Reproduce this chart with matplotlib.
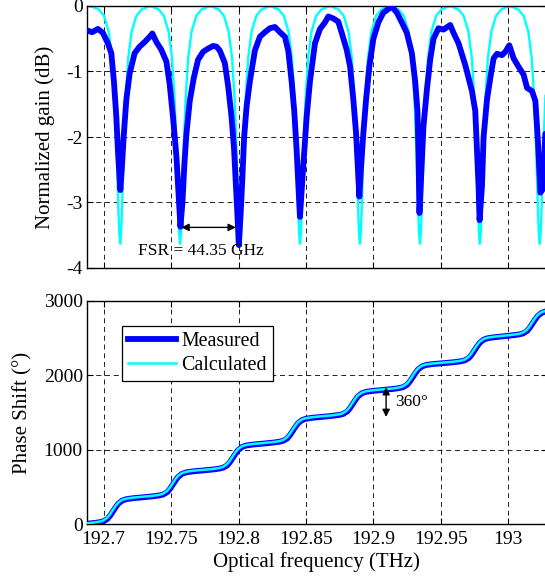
import matplotlib
matplotlib.use('Agg')
import matplotlib.pyplot as plt
from matplotlib.ticker import FixedLocator, FuncFormatter

plt.rcParams['font.family'] = ['Liberation Serif', 'DejaVu Serif']
plt.rcParams['axes.unicode_minus'] = False

# ---------------- data ----------------
# Top panel: measured normalized gain (dB)
GAIN_MEAS_FREQ = [
    192.68738, 192.6915, 192.69577, 192.69948, 192.70319, 192.70572, 192.70765, 192.70943,
    192.71062, 192.71166, 192.71240, 192.71359, 192.71507, 192.71686, 192.71931, 192.72302,
    192.72673, 192.73045, 192.73416, 192.73616, 192.73913, 192.74285, 192.74656, 192.74901,
    192.75146, 192.75399, 192.75569, 192.75696, 192.75844, 192.75993, 192.76141, 192.76386,
    192.76683, 192.77002, 192.77374, 192.77745, 192.78116, 192.78369, 192.78614, 192.78985,
    192.79230, 192.79483, 192.79676, 192.79802, 192.79898, 192.80025, 192.80151, 192.80270,
    192.80418, 192.80597, 192.80842, 192.81213, 192.81584, 192.81955, 192.82327, 192.82698,
    192.83069, 192.83441, 192.83686, 192.83938, 192.84131, 192.84309, 192.84428, 192.84554,
    192.84799, 192.85052, 192.85297, 192.85668, 192.86040, 192.86411, 192.86656, 192.87027,
    192.87398, 192.87651, 192.88022, 192.88267, 192.88512, 192.88713, 192.88839, 192.88958,
    192.89084, 192.89255, 192.89455, 192.89700, 192.89998, 192.90369, 192.90740, 192.91364,
    192.91735, 192.92106, 192.92478, 192.92849, 192.93094, 192.93265, 192.93339, 192.93413,
    192.93539, 192.93710, 192.93963, 192.94208, 192.94453, 192.94824, 192.95195, 192.95693,
    192.95938, 192.96309, 192.96807, 192.97304, 192.97549, 192.97676, 192.97794, 192.97869,
    192.98047, 192.98166, 192.98418, 192.98663, 192.98908, 192.99161, 192.99532, 192.99777,
    193.00074, 193.00393, 193.00765, 193.01136, 193.01388, 193.01760, 193.02005, 193.02205,
    193.02376, 193.02547, 193.02747,
]
GAIN_MEAS_DB = [
    -0.37, -0.40, -0.35, -0.41, -0.57, -0.72, -1.15, -1.69,
    -2.20, -2.55, -2.81, -2.45, -1.94, -1.43, -1.03, -0.72,
    -0.62, -0.55, -0.47, -0.42, -0.55, -0.67, -0.85, -1.20,
    -1.70, -2.30, -2.90, -3.37, -3.00, -2.40, -1.95, -1.45,
    -1.10, -0.82, -0.70, -0.65, -0.61, -0.62, -0.68, -0.87,
    -1.22, -1.69, -2.20, -2.70, -3.10, -3.65, -3.20, -2.70,
    -2.00, -1.54, -1.15, -0.68, -0.47, -0.40, -0.34, -0.32,
    -0.40, -0.47, -0.68, -1.15, -1.60, -2.20, -2.70, -3.22,
    -2.45, -1.69, -1.15, -0.57, -0.35, -0.25, -0.16, -0.19,
    -0.24, -0.41, -0.67, -0.92, -1.43, -1.94, -2.45, -2.91,
    -2.45, -1.94, -1.43, -0.92, -0.50, -0.25, -0.10, -0.01,
    -0.10, -0.25, -0.41, -0.72, -1.15, -1.60, -2.20, -3.16,
    -2.60, -1.84, -1.28, -0.82, -0.50, -0.34, -0.36, -0.29,
    -0.41, -0.57, -0.90, -1.30, -1.60, -2.20, -2.75, -3.27,
    -2.75, -2.00, -1.43, -1.10, -0.80, -0.73, -0.75, -0.70,
    -0.60, -0.80, -0.93, -1.05, -1.25, -1.30, -1.45, -2.10,
    -2.85, -2.80, -1.95,
]

# Top panel: calculated normalized gain (dB)
GAIN_CALC_FREQ = [
    192.6874, 192.6901,
    192.6963, 192.7003, 192.7038, 192.7063, 192.7083, 192.7098, 192.7108, 192.7116, 192.7123,
    192.7130, 192.7138, 192.7148, 192.7163, 192.7183, 192.7208, 192.7243, 192.7283, 192.7345,
    192.7407, 192.7447, 192.7482, 192.7507, 192.7527, 192.7542, 192.7552, 192.7560, 192.7567,
    192.7574, 192.7582, 192.7592, 192.7607, 192.7627, 192.7652, 192.7687, 192.7727, 192.7790,
    192.7852, 192.7892, 192.7927, 192.7952, 192.7972, 192.7987, 192.7997, 192.8005, 192.8012,
    192.8019, 192.8027, 192.8037, 192.8052, 192.8072, 192.8097, 192.8132, 192.8172, 192.8234,
    192.8296, 192.8336, 192.8371, 192.8396, 192.8416, 192.8431, 192.8441, 192.8449, 192.8456,
    192.8463, 192.8471, 192.8481, 192.8496, 192.8516, 192.8541, 192.8576, 192.8616, 192.8678,
    192.8740, 192.8780, 192.8815, 192.8840, 192.8860, 192.8875, 192.8885, 192.8893, 192.8900,
    192.8907, 192.8915, 192.8925, 192.8940, 192.8960, 192.8985, 192.9020, 192.9060, 192.9123,
    192.9185, 192.9225, 192.9260, 192.9285, 192.9305, 192.9320, 192.9330, 192.9338, 192.9345,
    192.9352, 192.9360, 192.9370, 192.9385, 192.9405, 192.9430, 192.9465, 192.9505, 192.9567,
    192.9629, 192.9669, 192.9704, 192.9729, 192.9749, 192.9764, 192.9774, 192.9782, 192.9789,
    192.9796, 192.9804, 192.9814, 192.9829, 192.9849, 192.9874, 192.9909, 192.9949, 193.0011,
    193.0073, 193.0113, 193.0148, 193.0173, 193.0193, 193.0208, 193.0218, 193.0226, 193.0233,
    193.0240, 193.0248, 193.0258, 193.0275,
]
GAIN_CALC_DB = [
    -0.01, 0.0,
    -0.05, -0.15, -0.39, -0.79, -1.45, -2.29, -3.00, -3.46, -3.63,
    -3.46, -3.00, -2.29, -1.45, -0.79, -0.39, -0.15, -0.05, 0.0,
    -0.05, -0.15, -0.39, -0.79, -1.45, -2.29, -3.00, -3.46, -3.63,
    -3.46, -3.00, -2.29, -1.45, -0.79, -0.39, -0.15, -0.05, 0.0,
    -0.05, -0.15, -0.39, -0.79, -1.45, -2.29, -3.00, -3.46, -3.63,
    -3.46, -3.00, -2.29, -1.45, -0.79, -0.39, -0.15, -0.05, 0.0,
    -0.05, -0.15, -0.39, -0.79, -1.45, -2.29, -3.00, -3.46, -3.63,
    -3.46, -3.00, -2.29, -1.45, -0.79, -0.39, -0.15, -0.05, 0.0,
    -0.05, -0.15, -0.39, -0.79, -1.45, -2.29, -3.00, -3.46, -3.63,
    -3.46, -3.00, -2.29, -1.45, -0.79, -0.39, -0.15, -0.05, 0.0,
    -0.05, -0.15, -0.39, -0.79, -1.45, -2.29, -3.00, -3.46, -3.63,
    -3.46, -3.00, -2.29, -1.45, -0.79, -0.39, -0.15, -0.05, 0.0,
    -0.05, -0.15, -0.39, -0.79, -1.45, -2.29, -3.00, -3.46, -3.63,
    -3.46, -3.00, -2.29, -1.45, -0.79, -0.39, -0.15, -0.05, 0.0,
    -0.05, -0.15, -0.39, -0.79, -1.45, -2.29, -3.00, -3.46, -3.63,
    -3.46, -3.00, -2.29, -1.37,
]

# Bottom panel: phase shift (degrees), common frequency grid
PHASE_FREQ = [
    192.6874,
    192.6918, 192.6968, 192.6998, 192.7028, 192.7048, 192.7068, 192.7088, 192.7108, 192.7138, 192.7168, 192.7218, 192.7290,
    192.7362, 192.7412, 192.7442, 192.7472, 192.7492, 192.7512, 192.7532, 192.7552, 192.7582, 192.7612, 192.7662, 192.7734,
    192.7807, 192.7857, 192.7887, 192.7917, 192.7937, 192.7957, 192.7977, 192.7997, 192.8027, 192.8057, 192.8107, 192.8179,
    192.8251, 192.8301, 192.8331, 192.8361, 192.8381, 192.8401, 192.8421, 192.8441, 192.8471, 192.8501, 192.8551, 192.8623,
    192.8695, 192.8745, 192.8775, 192.8805, 192.8825, 192.8845, 192.8865, 192.8885, 192.8915, 192.8945, 192.8995, 192.9067,
    192.9140, 192.9190, 192.9220, 192.9250, 192.9270, 192.9290, 192.9310, 192.9330, 192.9360, 192.9390, 192.9440, 192.9519,
    192.9598, 192.9648, 192.9678, 192.9708, 192.9728, 192.9748, 192.9768, 192.9788, 192.9818, 192.9848, 192.9898, 192.9963,
    193.0028, 193.0078, 193.0108, 193.0138, 193.0158, 193.0178, 193.0198, 193.0218, 193.0248, 193.0275,
]
PHASE_MEAS = [
    8,
    15, 27, 40, 72, 115, 170, 225, 275, 318, 337, 350, 362,
    375, 387, 400, 432, 475, 530, 585, 635, 678, 697, 710, 722,
    735, 747, 760, 792, 835, 890, 945, 995, 1038, 1057, 1070, 1082,
    1095, 1107, 1120, 1152, 1195, 1250, 1305, 1355, 1398, 1417, 1430, 1442,
    1455, 1467, 1480, 1512, 1555, 1610, 1665, 1715, 1758, 1777, 1790, 1802,
    1815, 1827, 1840, 1872, 1915, 1970, 2025, 2075, 2118, 2137, 2150, 2162,
    2175, 2187, 2200, 2232, 2275, 2330, 2385, 2435, 2478, 2497, 2510, 2522,
    2535, 2547, 2560, 2592, 2635, 2690, 2745, 2795, 2838, 2855,
]
PHASE_CALC = [
    13,
    22, 35, 52, 90, 135, 190, 245, 290, 328, 345, 358, 370,
    382, 395, 412, 450, 495, 550, 605, 650, 688, 705, 718, 730,
    742, 755, 772, 810, 855, 910, 965, 1010, 1048, 1065, 1078, 1090,
    1102, 1115, 1132, 1170, 1215, 1270, 1325, 1370, 1408, 1425, 1438, 1450,
    1462, 1475, 1492, 1530, 1575, 1630, 1685, 1730, 1768, 1785, 1798, 1810,
    1822, 1835, 1852, 1890, 1935, 1990, 2045, 2090, 2128, 2145, 2158, 2170,
    2182, 2195, 2212, 2250, 2295, 2350, 2405, 2450, 2488, 2505, 2518, 2530,
    2542, 2555, 2572, 2610, 2655, 2710, 2765, 2810, 2848, 2864,
]

X_TICKS = [192.7, 192.75, 192.8, 192.85, 192.9, 192.95, 193.0]
GAIN_TICKS = [-4, -3, -2, -1, 0]
PHASE_TICKS = [0, 1000, 2000, 3000]

FSR_LABEL = 'FSR = 44.35 GHz'
FSR_ARROW = (192.7577, 192.7980, -3.38)   # x start, x end, level (dB)
DEG_ARROW = (192.9094, 1840, 1440)         # x, top, bottom (deg)

# ---------------- figure ----------------
W, H = 545, 586
fig = plt.figure(figsize=(W / 100, H / 100), dpi=100)
left = 87 / W
width = (546.5 - 87) / W
ax1 = fig.add_axes([left, 1 - 268 / H, width, 262 / H])
ax2 = fig.add_axes([left, 1 - 524.3 / H, width, 223.6 / H], sharex=ax1)

BLUE = '#0000ff'
CYAN = '#00ffff'
grid_kw = dict(color='k', linestyle=(0, (6, 4.5)), linewidth=0.6)

# top panel
ax1.plot(GAIN_CALC_FREQ, GAIN_CALC_DB, color=CYAN, lw=1.7, zorder=2)
ax1.plot(GAIN_MEAS_FREQ, GAIN_MEAS_DB, color=BLUE, lw=4.2, zorder=3,
         solid_joinstyle='round', solid_capstyle='round')
ax1.set_ylim(-4, 0)
ax1.yaxis.set_major_locator(FixedLocator(GAIN_TICKS))
ax1.set_ylabel('Normalized gain (dB)', fontsize=15, labelpad=8)
ax1.annotate('', xy=(FSR_ARROW[1], FSR_ARROW[2]), xytext=(FSR_ARROW[0], FSR_ARROW[2]),
             arrowprops=dict(arrowstyle='<|-|>', color='k', lw=1.0,
                             mutation_scale=11, shrinkA=0, shrinkB=0), zorder=5)
ax1.text(192.7252, -3.74, FSR_LABEL, fontsize=12.5, ha='left', va='center', zorder=6)

# bottom panel
l1, = ax2.plot(PHASE_FREQ, PHASE_MEAS, color=BLUE, lw=4.2, zorder=2,
               solid_joinstyle='round', label='Measured')
l2, = ax2.plot(PHASE_FREQ, PHASE_CALC, color=CYAN, lw=1.8, zorder=3, label='Calculated')
ax2.set_ylim(0, 3000)
ax2.yaxis.set_major_locator(FixedLocator(PHASE_TICKS))
ax2.set_ylabel('Phase Shift (\u00b0)', fontsize=15, labelpad=8)
ax2.set_xlabel('Optical frequency (THz)', fontsize=15, labelpad=3)
ax2.annotate('', xy=(DEG_ARROW[0], DEG_ARROW[2]), xytext=(DEG_ARROW[0], DEG_ARROW[1]),
             arrowprops=dict(arrowstyle='<|-|>', color='k', lw=1.0,
                             mutation_scale=11, shrinkA=0, shrinkB=0), zorder=5)
ax2.text(192.9165, 1640, '360\u00b0', fontsize=12.5, ha='left', va='center')

leg = ax2.legend(handles=[l1, l2], loc='upper left', bbox_to_anchor=(0.076, 0.888),
                 borderaxespad=0, fancybox=False, framealpha=1, edgecolor='k',
                 fontsize=14.3, handlelength=2.4, handletextpad=0.3,
                 borderpad=0.3, labelspacing=0.25)
leg.get_frame().set_linewidth(0.9)

for ax in (ax1, ax2):
    ax.set_xlim(192.6877, 193.0283)
    ax.xaxis.set_major_locator(FixedLocator(X_TICKS))
    ax.grid(True, **grid_kw)
    ax.set_axisbelow(True)
    ax.tick_params(direction='in', length=4, width=0.8, top=True, right=True,
                   labelsize=14)
    ax.tick_params(axis='y', pad=3)
    ax.tick_params(axis='x', pad=5)
    for s in ax.spines.values():
        s.set_linewidth(1.0)

ax1.tick_params(labelbottom=False)
ax2.xaxis.set_major_formatter(FuncFormatter(lambda v, p: f'{v:g}'))

fig.savefig('out.png', dpi=100)
